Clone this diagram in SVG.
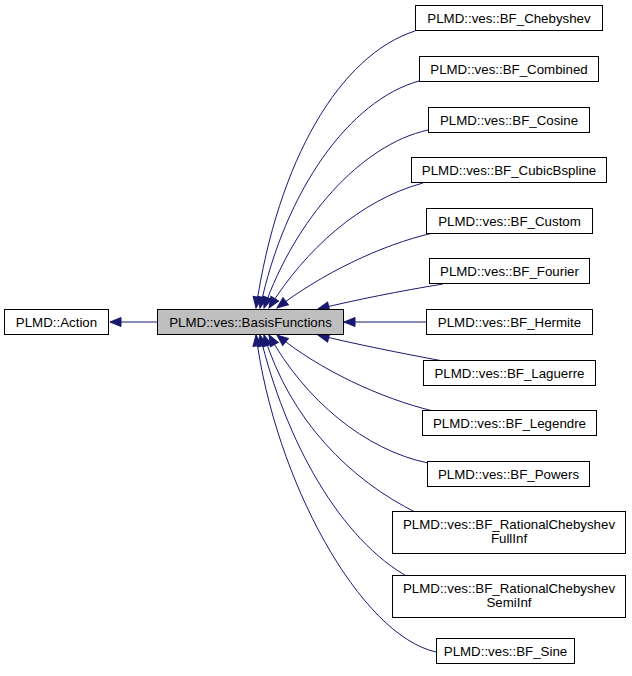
<svg xmlns="http://www.w3.org/2000/svg" width="632" height="676" viewBox="0 0 632 676">
<style>
.node rect{fill:#ffffff;stroke:#000000;stroke-width:1}
.node.cur rect{fill:#bfbfbf}
.node text{font-family:"Liberation Sans",Arial,Helvetica,sans-serif;font-size:13.3px;fill:#000000;text-anchor:middle}
.edge{fill:none;stroke:#191970;stroke-width:1;marker-end:url(#ah)}
</style>
<defs>
<marker id="ah" markerUnits="userSpaceOnUse" markerWidth="14" markerHeight="11" refX="12" refY="5.5" orient="auto" overflow="visible">
<path d="M1,1 L12,5.5 L1,10 z" fill="#191970" stroke="#191970" stroke-width="1"/>
</marker>
</defs>
<rect width="632" height="676" fill="#ffffff"/>
<g id="connectors">
<path class="edge" d="M157,322 L110,322"/>
<path class="edge" d="M415,31 C340,55 278,160 256,308"/>
<path class="edge" d="M419,81 C350,100 285,190 260,308"/>
<path class="edge" d="M428,130 C360,145 295,220 264,308"/>
<path class="edge" d="M423,183 C360,200 305,250 269,308"/>
<path class="edge" d="M433,233 C380,245 320,275 277,308"/>
<path class="edge" d="M443,284 C400,291 355,300 318,309"/>
<path class="edge" d="M426,322 L344,322"/>
<path class="edge" d="M443,361 C400,353 355,344 318,335"/>
<path class="edge" d="M433,411 C380,398 320,370 277,335"/>
<path class="edge" d="M428,463 C365,450 305,400 269,335"/>
<path class="edge" d="M417,513 C350,480 290,420 264,335"/>
<path class="edge" d="M410,578 C340,540 285,440 260,335"/>
<path class="edge" d="M436,652 C360,635 275,480 256,335"/>
</g>
<g id="node_action" class="node"><rect x="4.5" y="309.5" width="104" height="25"/><text x="56.5" y="326.5">PLMD::Action</text></g>
<g id="node_basis" class="node cur"><rect x="157.5" y="309.5" width="186" height="25"/><text x="250.5" y="326.5">PLMD::ves::BasisFunctions</text></g>
<g id="node_chebyshev" class="node"><rect x="415.5" y="5.5" width="187" height="25"/><text x="509" y="22.5">PLMD::ves::BF_Chebyshev</text></g>
<g id="node_combined" class="node"><rect x="419.5" y="56.5" width="179" height="25"/><text x="509" y="73.5">PLMD::ves::BF_Combined</text></g>
<g id="node_cosine" class="node"><rect x="428.5" y="107.5" width="161" height="25"/><text x="509" y="124.5">PLMD::ves::BF_Cosine</text></g>
<g id="node_cubicbspline" class="node"><rect x="411.5" y="157.5" width="195" height="25"/><text x="509" y="174.5">PLMD::ves::BF_CubicBspline</text></g>
<g id="node_custom" class="node"><rect x="426.5" y="208.5" width="166" height="25"/><text x="509.5" y="225.5">PLMD::ves::BF_Custom</text></g>
<g id="node_fourier" class="node"><rect x="429.5" y="258.5" width="160" height="25"/><text x="509.5" y="275.5">PLMD::ves::BF_Fourier</text></g>
<g id="node_hermite" class="node"><rect x="426.5" y="309.5" width="166" height="25"/><text x="509.5" y="326.5">PLMD::ves::BF_Hermite</text></g>
<g id="node_laguerre" class="node"><rect x="423.5" y="360.5" width="172" height="25"/><text x="509.5" y="377.5">PLMD::ves::BF_Laguerre</text></g>
<g id="node_legendre" class="node"><rect x="422.5" y="410.5" width="174" height="25"/><text x="509.5" y="427.5">PLMD::ves::BF_Legendre</text></g>
<g id="node_powers" class="node"><rect x="427.5" y="461.5" width="162" height="25"/><text x="508.5" y="478.5">PLMD::ves::BF_Powers</text></g>
<g id="node_fullinf" class="node"><rect x="392.5" y="511.5" width="233" height="42"/><text x="509" y="528.5">PLMD::ves::BF_RationalChebyshev</text><text x="509" y="542.5">FullInf</text></g>
<g id="node_semiinf" class="node"><rect x="392.5" y="575.5" width="233" height="42"/><text x="509" y="592.5">PLMD::ves::BF_RationalChebyshev</text><text x="509" y="606.5">SemiInf</text></g>
<g id="node_sine" class="node"><rect x="436.5" y="638.5" width="138" height="25"/><text x="505.5" y="655.5">PLMD::ves::BF_Sine</text></g>
</svg>
